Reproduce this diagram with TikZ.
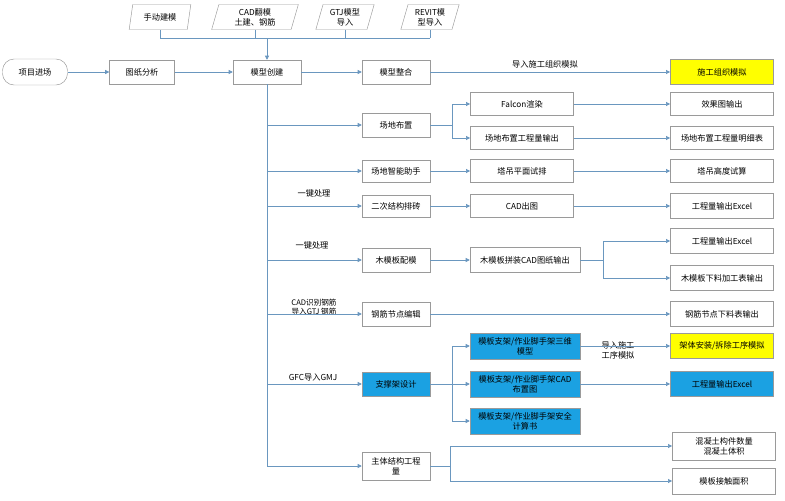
\documentclass[tikz,border=0pt]{standalone}
\usepackage{fontspec}
\setmainfont{Noto Sans CJK SC}
\usetikzlibrary{shapes, arrows.meta, positioning, calc}
\definecolor{flowline}{HTML}{6A97BF}
\definecolor{boxgray}{HTML}{9A9A9A}
\definecolor{supportblue}{HTML}{1BA1E2}
\definecolor{simyellow}{HTML}{FFFF00}

\begin{document}
\begin{tikzpicture}[x=0.03cm, y=-0.03cm,
                    font=\fontsize{7}{8.5}\selectfont,
                    step box/.style={rectangle, draw=boxgray, align=center, minimum height=0.72cm, minimum width=2.04cm, inner sep=1pt},
                    out box/.style={step box, minimum width=3.1cm, minimum height=0.75cm},
                    mid box/.style={step box, minimum width=3.1cm, minimum height=0.68cm},
                    input/.style={trapezium, trapezium left angle=70, trapezium right angle=110, draw=boxgray, align=center, minimum height=0.75cm, inner sep=1pt, trapezium stretches body},
                    blue box/.style={fill=supportblue},
                    yellow box/.style={fill=simyellow},
                    line/.style={draw=flowline, semithick},
                    flow/.style={line, -{Triangle[length=3.5pt, width=3.5pt]}}]

    \useasboundingbox (0,0) rectangle (785,500);

    % Inputs
    \node[input, minimum width=1.85cm] (manual) at (160,17) {手动建模};
    \node[input, minimum width=2.6cm] (cad) at (255,17) {CAD翻模\\土建、钢筋};
    \node[input, minimum width=1.75cm] (gtj) at (345,17) {GTJ模型\\导入};
    \node[input, minimum width=1.75cm] (revit) at (430,17) {REVIT模\\型导入};

    % Main line
    \node[rectangle, rounded corners=0.35cm, draw=boxgray, minimum width=1.95cm, minimum height=0.78cm] (start) at (35,72) {项目进场};
    \node[step box, minimum width=1.95cm] (drawing) at (142,72) {图纸分析};
    \node[step box] (model) at (267,72) {模型创建};
    \node[step box] (merge) at (396,72) {模型整合};
    \node[out box, yellow box] (orgsim) at (722,72) {施工组织模拟};

    % Second column
    \node[step box] (site) at (396,125) {场地布置};
    \node[step box, minimum height=0.66cm] (assist) at (396,171) {场地智能助手};
    \node[step box, minimum height=0.66cm] (brick) at (396,206) {二次结构排砖};
    \node[step box] (formwork) at (396,260) {木模板配模};
    \node[step box] (rebar) at (396,314) {钢筋节点编辑};
    \node[step box, blue box] (support) at (396,384) {支撑架设计};
    \node[step box, minimum height=0.84cm] (mainqty) at (396,466) {主体结构工程\\量};

    % Third column
    \node[mid box] (falcon) at (522,104) {Falcon渲染};
    \node[mid box] (siteqty) at (522,138) {场地布置工程量输出};
    \node[mid box] (crane) at (522,171) {塔吊平面试排};
    \node[mid box] (cadout) at (522,206) {CAD出图};
    \node[mid box, minimum width=3.3cm, minimum height=0.75cm] (assemble) at (525,260) {木模板拼装CAD图纸输出};
    \node[mid box, blue box, minimum width=3.3cm, minimum height=0.78cm] (scaf3d) at (525,346) {模板支架/作业脚手架三维\\模型};
    \node[mid box, blue box, minimum width=3.3cm, minimum height=0.78cm] (scafcad) at (525,384) {模板支架/作业脚手架CAD\\布置图};
    \node[mid box, blue box, minimum width=3.3cm, minimum height=0.78cm] (scafcalc) at (525,421) {模板支架/作业脚手架安全\\计算书};

    % Outputs
    \node[out box, minimum height=0.68cm] (render) at (722,104) {效果图输出};
    \node[out box, minimum height=0.68cm] (sitelist) at (722,138) {场地布置工程量明细表};
    \node[out box, minimum height=0.68cm] (craneh) at (722,171) {塔吊高度试算};
    \node[out box] (excel1) at (722,206) {工程量输出Excel};
    \node[out box] (excel2) at (722,241) {工程量输出Excel};
    \node[out box] (cutlist) at (722,278) {木模板下料加工表输出};
    \node[out box] (rebarlist) at (722,314) {钢筋节点下料表输出};
    \node[out box, yellow box] (scafsim) at (722,346) {架体安装/拆除工序模拟};
    \node[out box, blue box] (excel3) at (722,384) {工程量输出Excel};
    \node[out box, minimum height=0.84cm] (concrete) at (724,446) {混凝土构件数量\\混凝土体积};
    \node[out box, minimum height=0.78cm] (contact) at (724,481) {模板接触面积};

    % Labels
    \node (lblorg) at (545,64) {导入施工组织模拟};
    \node (lblkey1) at (314,193) {一键处理};
    \node (lblkey2) at (312,245) {一键处理};
    \node[align=center, font=\fontsize{6.5}{8}\selectfont] (lblrebar) at (314,307) {CAD识别钢筋\\导入GTJ 钢筋};
    \node (lblgfc) at (313,377) {GFC导入GMJ};
    \node[align=center] (lblseq) at (618,350) {导入施工\\工序模拟};

    % Inputs into model
    \coordinate (inbus) at (model |- 0,38);
    \draw[line] (manual.south |- inbus) -- (revit.south |- inbus);
    \foreach \n in {manual, cad, gtj, revit}
        \draw[line] (\n.south) -- (\n.south |- inbus);
    \draw[flow] (inbus) -- (model);

    % Main line
    \draw[flow] (start) -- (drawing);
    \draw[flow] (drawing) -- (model);
    \draw[flow] (model) -- (merge);
    \draw[flow] (merge) -- (orgsim);

    % Trunk
    \coordinate (trunkend) at (model.south |- mainqty);
    \draw[line] (model.south) -- (trunkend);
    \foreach \n in {site, assist, brick, formwork, rebar, support, mainqty}
        \draw[flow] (model.south |- \n) -- (\n);

    % Branches
    \coordinate (sitefork) at (452,125);
    \draw[line] (site) -- (sitefork);
    \draw[flow] (sitefork) |- (falcon);
    \draw[flow] (sitefork) |- (siteqty);
    \draw[flow] (falcon) -- (render);
    \draw[flow] (siteqty) -- (sitelist);
    \draw[flow] (assist) -- (crane);
    \draw[flow] (crane) -- (craneh);
    \draw[flow] (brick) -- (cadout);
    \draw[flow] (cadout) -- (excel1);
    \draw[flow] (formwork) -- (assemble);
    \coordinate (asmfork) at (603,260);
    \draw[line] (assemble) -- (asmfork);
    \draw[flow] (asmfork) |- (excel2);
    \draw[flow] (asmfork) |- (cutlist);
    \draw[flow] (rebar) -- (rebarlist);
    \coordinate (supfork) at (452,384);
    \draw[line] (support) -- (supfork);
    \draw[flow] (supfork) |- (scaf3d);
    \draw[flow] (supfork) -- (scafcad);
    \draw[flow] (supfork) |- (scafcalc);
    \draw[flow] (scaf3d) -- (scafsim);
    \draw[flow] (scafcad) -- (excel3);
    \coordinate (mainfork) at (450,466);
    \draw[line] (mainqty) -- (mainfork);
    \draw[flow] (mainfork) |- (concrete);
    \draw[flow] (mainfork) |- (contact);

\end{tikzpicture}
\end{document}
